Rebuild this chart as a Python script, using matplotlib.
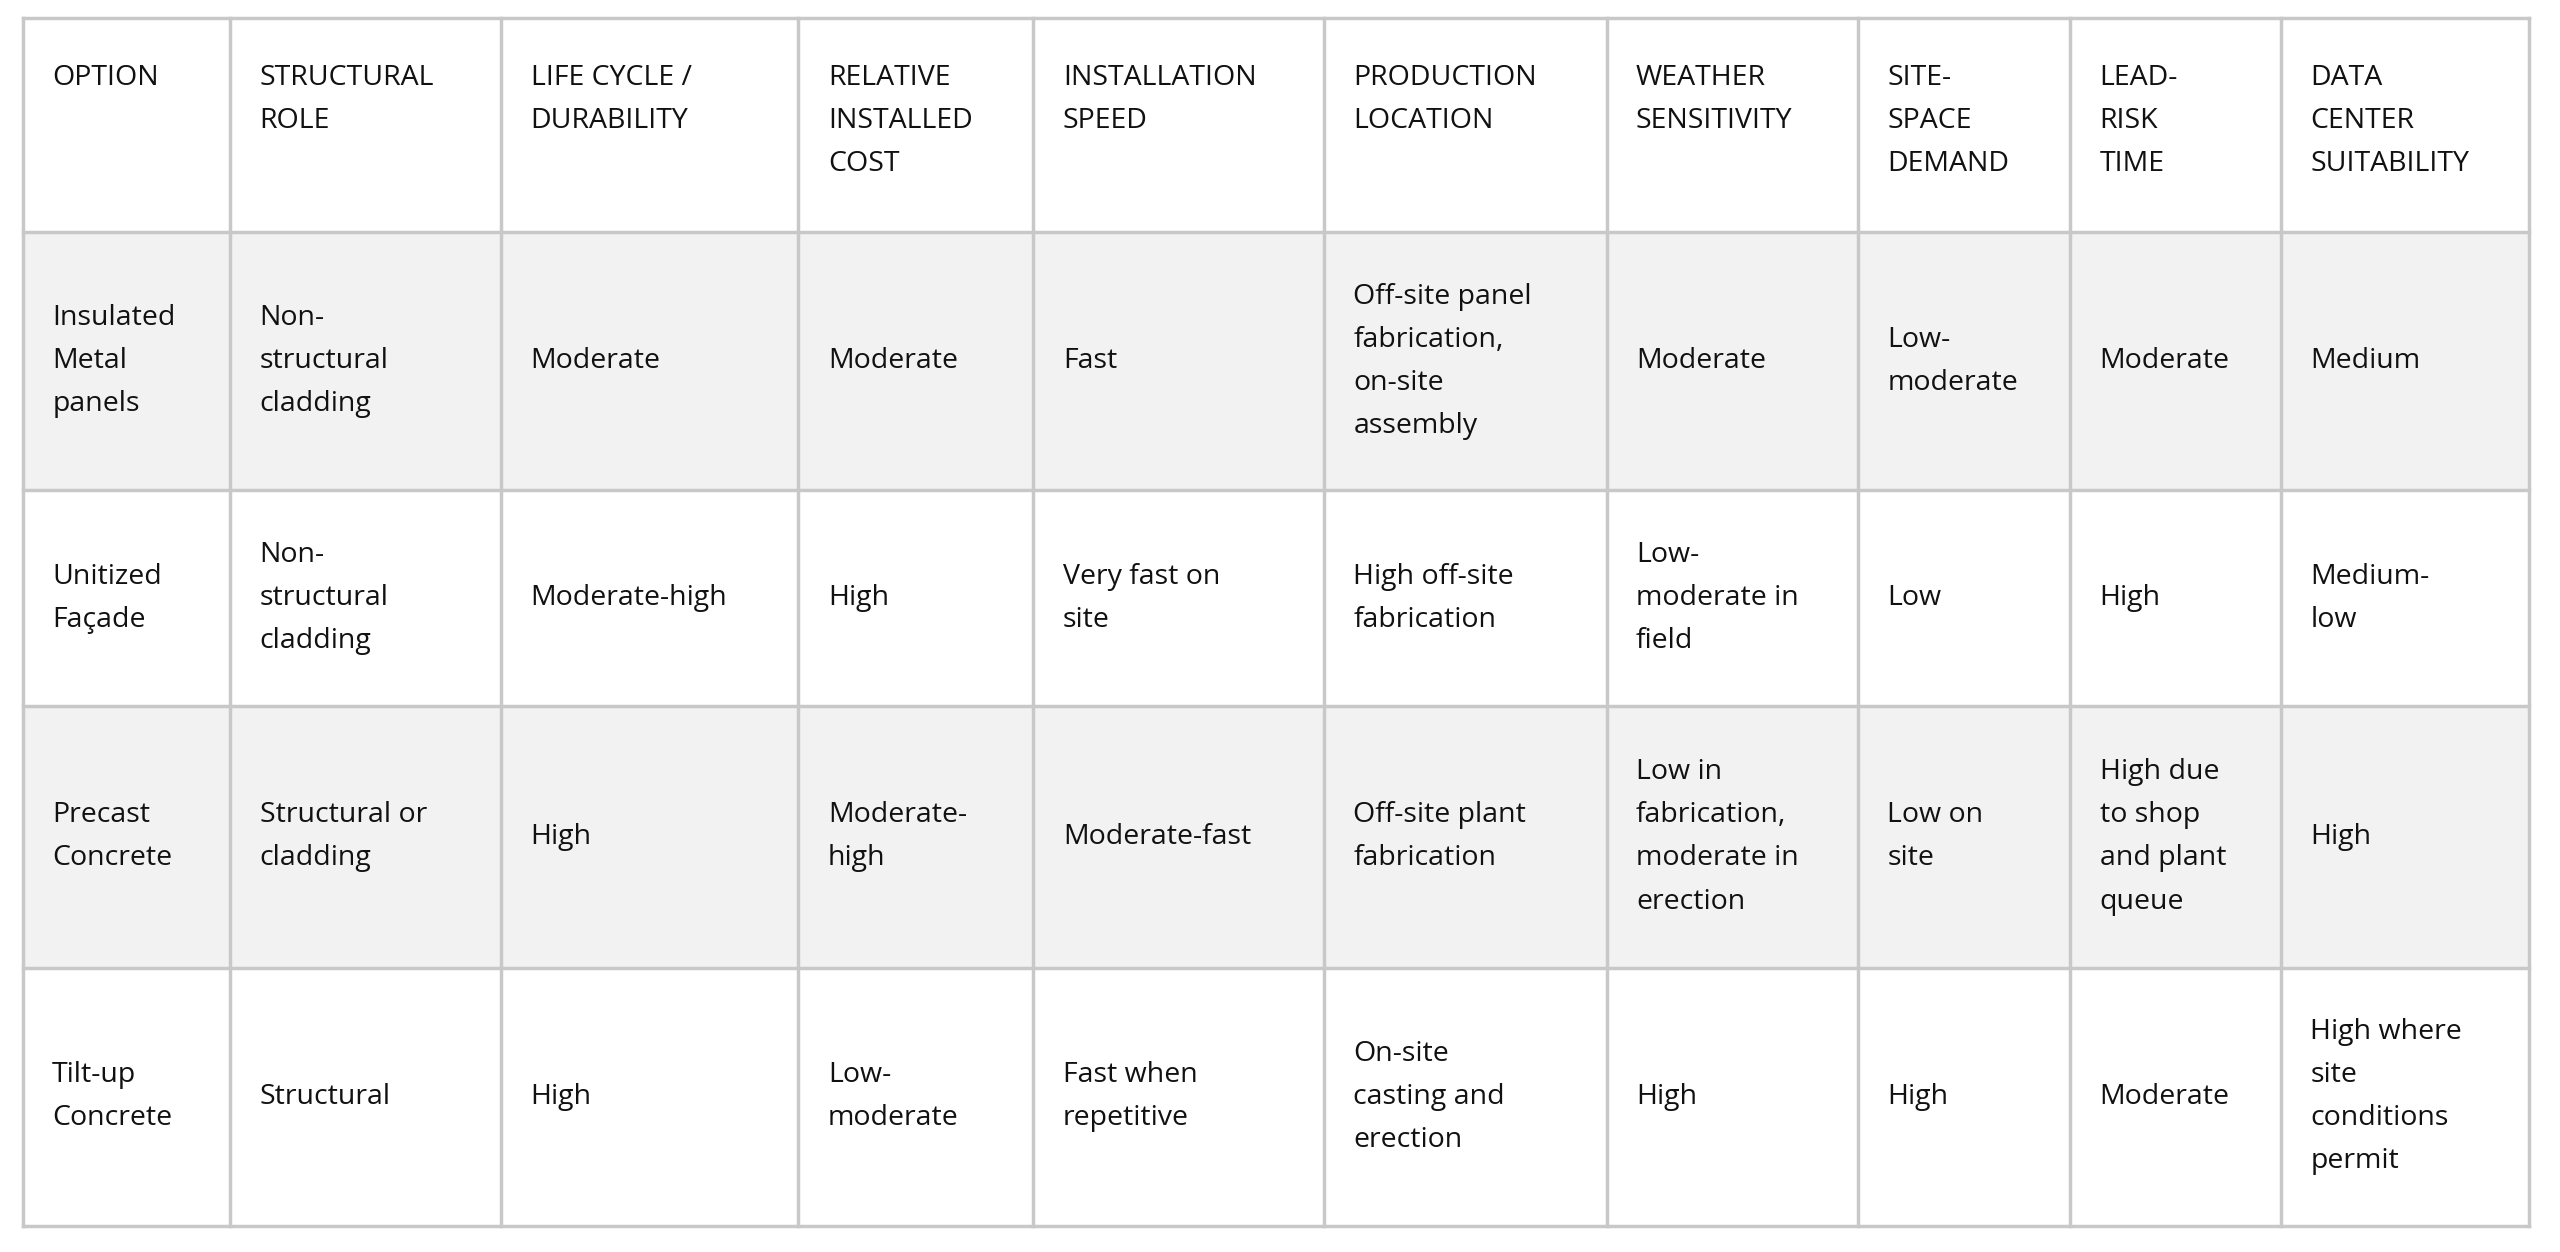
import matplotlib
matplotlib.use("Agg")
import matplotlib.pyplot as plt
from matplotlib.patches import Rectangle

headers = ["OPTION", "STRUCTURAL\nROLE", "LIFE CYCLE /\nDURABILITY", "RELATIVE\nINSTALLED\nCOST",
           "INSTALLATION\nSPEED", "PRODUCTION\nLOCATION", "WEATHER\nSENSITIVITY", "SITE-\nSPACE\nDEMAND",
           "LEAD-\nRISK\nTIME", "DATA\nCENTER\nSUITABILITY"]
rows = [
    ["Insulated\nMetal\npanels", "Non-\nstructural\ncladding", "Moderate", "Moderate", "Fast",
     "Off-site panel\nfabrication,\non-site\nassembly", "Moderate", "Low-\nmoderate", "Moderate", "Medium"],
    ["Unitized\nFaçade", "Non-\nstructural\ncladding", "Moderate-high", "High", "Very fast on\nsite",
     "High off-site\nfabrication", "Low-\nmoderate in\nfield", "Low", "High", "Medium-\nlow"],
    ["Precast\nConcrete", "Structural or\ncladding", "High", "Moderate-\nhigh", "Moderate-fast",
     "Off-site plant\nfabrication", "Low in\nfabrication,\nmoderate in\nerection", "Low on\nsite",
     "High due\nto shop\nand plant\nqueue", "High"],
    ["Tilt-up\nConcrete", "Structural", "High", "Low-\nmoderate", "Fast when\nrepetitive",
     "On-site\ncasting and\nerection", "High", "High", "Moderate", "High where\nsite\nconditions\npermit"],
]
row_fills = ["#f2f2f2", "#ffffff", "#f2f2f2", "#ffffff"]

xs = [14, 141, 307, 489, 633, 811, 984, 1138, 1268, 1397, 1549]
ys = [11, 142, 300, 432, 592, 750]

fig = plt.figure(figsize=(25.6, 12.52), dpi=100)
ax = fig.add_axes([0, 0, 1, 1])
ax.set_xlim(0, 1568)
ax.set_ylim(766, 0)
ax.axis("off")

fs = 20.5
ls = 1.72
fam = ["Open Sans", "DejaVu Sans"]
for r in range(len(rows)):
    ax.add_patch(Rectangle((xs[0], ys[r+1]), xs[-1]-xs[0], ys[r+2]-ys[r+1], color=row_fills[r], lw=0))

for c, h in enumerate(headers):
    ax.text(xs[c]+18, 39, h, fontsize=fs, family=fam, va="top", ha="left",
            linespacing=ls, color="#111111")
for r, row in enumerate(rows):
    yc = (ys[r+1]+ys[r+2])/2
    for c, t in enumerate(row):
        ax.text(xs[c]+18, yc, t, fontsize=fs, family=fam, va="center", ha="left",
                linespacing=ls, color="#111111")

for x in xs:
    ax.plot([x, x], [ys[0], ys[-1]], color="#c8c8c8", lw=2.5, solid_capstyle="projecting")
for y in ys:
    ax.plot([xs[0], xs[-1]], [y, y], color="#c8c8c8", lw=2.5, solid_capstyle="projecting")

fig.savefig("out.png", dpi=100, facecolor="white")
